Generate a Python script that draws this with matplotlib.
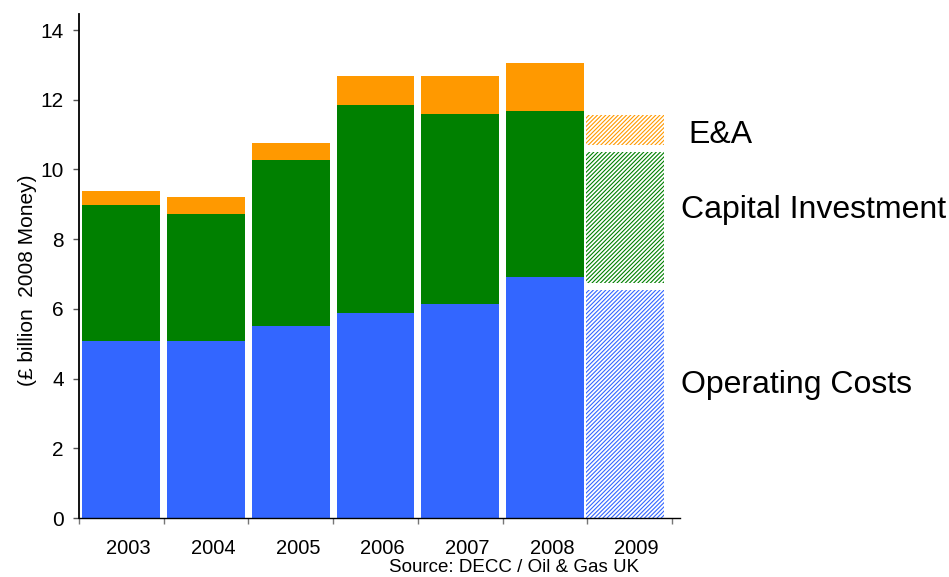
import matplotlib
matplotlib.use("Agg")
import matplotlib.pyplot as plt
import matplotlib.transforms as mtransforms
import numpy as np

plt.rcParams['font.family'] = ['Liberation Sans', 'DejaVu Sans']
plt.rcParams['hatch.linewidth'] = 0.8

# UKCS expenditure, £ billion (2008 money)
years = ["2003", "2004", "2005", "2006", "2007", "2008", "2009"]
operating_costs = [5.08, 5.08, 5.51, 5.88, 6.14, 6.91]
capital_investment = [3.90, 3.64, 4.76, 5.97, 5.45, 4.77]
exploration_appraisal = [0.40, 0.49, 0.49, 0.83, 1.09, 1.37]

# 2009 forecast
forecast_operating = 6.55
forecast_capital = 3.78
forecast_ea = 0.88

series_labels = ["Operating Costs", "Capital Investment", "E&A"]
colors = ["#3366FF", "#008000", "#FF9900"]

fig = plt.figure(figsize=(9.49, 5.77), dpi=100)
ax = fig.add_axes([79 / 949, 1 - 518 / 577, 601 / 949, 504 / 577])

x = np.arange(len(years) - 1)
width = 0.92

bottom = np.zeros(len(x))
for vals, col in zip([operating_costs, capital_investment, exploration_appraisal], colors):
    ax.bar(x, vals, width, bottom=bottom, color=col, linewidth=0)
    bottom += np.array(vals)

# hatched forecast bar, with a thin white gap between the segments
gap = 0.18
xf = len(years) - 1 - 0.05
fb = 0.0
for val, col in zip([forecast_operating, forecast_capital, forecast_ea], colors):
    ax.bar(xf, val, width, bottom=fb, facecolor="white", edgecolor=col,
           hatch="////////", linewidth=0)
    fb += val + gap

ax.set_xlim(-0.5, 6.594)
ax.set_ylim(0, 14.46)

for side in ["top", "right"]:
    ax.spines[side].set_visible(False)
ax.spines["left"].set_color("black")
ax.spines["left"].set_linewidth(1.3)
ax.spines["bottom"].set_color("black")
ax.spines["bottom"].set_linewidth(1.0)

ax.set_yticks(np.arange(0, 15, 2))
ax.tick_params(axis="y", direction="out", length=4, width=1, color="#555555",
               labelsize=15, pad=7)

# category boundaries as ticks, labels centred on each bar
ax.set_xticks(np.arange(-0.5, 7, 1.0))
ax.set_xticklabels([])
ax.tick_params(axis="x", which="major", direction="out", length=4, width=1,
               color="#777777")
ax.set_xticks(np.arange(len(years)), minor=True)
ax.set_xticklabels(years, minor=True)
ax.tick_params(axis="x", which="minor", length=0, labelsize=14.5, pad=15)
shift = mtransforms.ScaledTranslation(7 / 100, 0, fig.dpi_scale_trans)
for lbl in ax.get_xticklabels(minor=True):
    lbl.set_transform(lbl.get_transform() + shift)

fig.text(28 / 949, 1 - 280 / 577, "(£ billion  2008 Money)", rotation=90,
         ha="center", va="center", fontsize=15)

fig.text(688 / 949, 1 - 143 / 577, series_labels[2], fontsize=23, va="baseline")
fig.text(681 / 949, 1 - 218 / 577, series_labels[1], fontsize=23, va="baseline")
fig.text(681 / 949, 1 - 393 / 577, series_labels[0], fontsize=23, va="baseline")

fig.text(389 / 949, 1 - 572 / 577, "Source: DECC / Oil & Gas UK", fontsize=13.5,
         va="baseline")

fig.savefig("out.png", dpi=100)
